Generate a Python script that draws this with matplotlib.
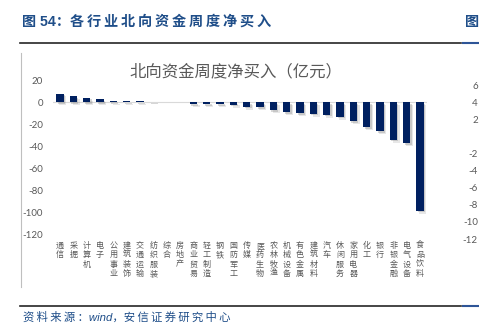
import matplotlib
matplotlib.use('Agg')
import matplotlib.pyplot as plt
from matplotlib.lines import Line2D
import numpy as np

plt.rcParams['font.family'] = ['Noto Sans CJK SC', 'DejaVu Sans']

# --- Data ---
industries = ['通信', '采掘', '计算机', '电子', '公用事业', '建筑装饰', '交通运输', '纺织服装',
              '综合', '房地产', '商业贸易', '轻工制造', '钢铁', '国防军工', '传媒', '医药生物',
              '农林牧渔', '机械设备', '有色金属', '建筑材料', '汽车', '休闲服务', '家用电器',
              '化工', '银行', '非银金融', '电气设备', '食品饮料']
net_buy = [8.0, 5.4, 4.2, 2.9, 1.5, 1.2, 0.9, 0.6, 0.2, -0.1, -1.6, -1.6, -1.7, -2.2,
           -4.0, -4.2, -7.2, -9.0, -9.8, -10.4, -11.4, -13.0, -17.0, -22.5, -26.5,
           -34.0, -37.0, -98.5]
y_ticks = [20, 0, -20, -40, -60, -80, -100, -120]
# axis of the neighbouring figure, cut off at the right edge
next_ticks = [6, 4, 2, -2, -4, -6, -8, -10, -12]

W, H = 479, 335
fig = plt.figure(figsize=(W / 100, H / 100), dpi=100)


def fx(px):
    return px / W


def fy(py):
    return 1 - py / H


def spaced(s):
    # letter-spaced CJK caption text (thin spaces come from DejaVu)
    return '\u2009'.join(s)


NAVY = '#002060'
GREY = '#595959'
BLUE = '#1F4E89'
CAP_FONT = ['Liberation Sans', 'Noto Sans CJK SC', 'DejaVu Sans']

ax = fig.add_axes([fx(53.3), fy(234.3), fx(426.7) - fx(53.3), fy(80.3) - fy(234.3)])
x = np.arange(len(industries))
w = 0.53

# soft drop shadow under the bars
for off, a in [(0.22, 0.18), (0.12, 0.3)]:
    ax.bar(x + off, net_buy, w, bottom=-off * 12, color='#7F7F7F', alpha=a, linewidth=0, zorder=2)
ax.bar(x, net_buy, w, color=NAVY, linewidth=0, zorder=3)
ax.axhline(0, color='#D9D9D9', lw=0.8, zorder=1)

ax.set_xlim(-0.5, len(industries) - 0.5)
ax.set_ylim(-120, 20)
ax.set_yticks(y_ticks)
ax.set_yticklabels([str(v) for v in y_ticks], family='Lato', fontsize=7, color=GREY)
ax.set_xticks(x)
ax.set_xticklabels(['\n'.join(n) for n in industries], fontsize=5.8, color=GREY, linespacing=1.05)
ax.tick_params(axis='y', length=0, pad=7.4)
ax.tick_params(axis='x', length=0, pad=4.8)
for s in ax.spines.values():
    s.set_visible(False)

fig.text(fx(236), fy(72), '北向资金周度净买入（亿元）', ha='center', va='center',
         fontsize=11.8, color=GREY)

# page header / footer
fig.text(fx(22), fy(21.7), '图 54：' + spaced('各行业北向资金周度净买入'), ha='left', va='center',
         family=CAP_FONT, fontweight='bold', fontsize=10.2, color=BLUE)
fig.text(fx(465), fy(21.7), '图', ha='left', va='center', fontweight='bold', fontsize=10.2, color=BLUE)
fig.text(fx(22.7), fy(316.7), spaced('资料来源：') + 'wind，' + spaced('安信证券研究中心'),
         ha='left', va='center', family=CAP_FONT, style='italic', fontsize=8.2, color=BLUE)

for yy in (42.7, 306):
    fig.add_artist(Line2D([fx(20), fx(461)], [fy(yy), fy(yy)], color='#262626', lw=1.2))
    fig.add_artist(Line2D([fx(462.5), 1], [fy(yy), fy(yy)], color='#2E5597', lw=1.5))
fig.add_artist(Line2D([fx(20.7), fx(20.7)], [fy(53), fy(287)], color='#BFBFBF', lw=0.8))

# neighbouring chart's y axis
ax2 = fig.add_axes([fx(481), fy(239), 0.1, fy(85.2) - fy(239)])
ax2.set_ylim(-12, 6)
ax2.set_yticks(next_ticks)
ax2.set_yticklabels([str(v) for v in next_ticks], family='Lato', fontsize=7, color=GREY)
ax2.tick_params(axis='y', length=0, pad=2.2)
ax2.set_xticks([])
ax2.patch.set_visible(False)
for s in ax2.spines.values():
    s.set_visible(False)

fig.savefig('out.png', dpi=100)
